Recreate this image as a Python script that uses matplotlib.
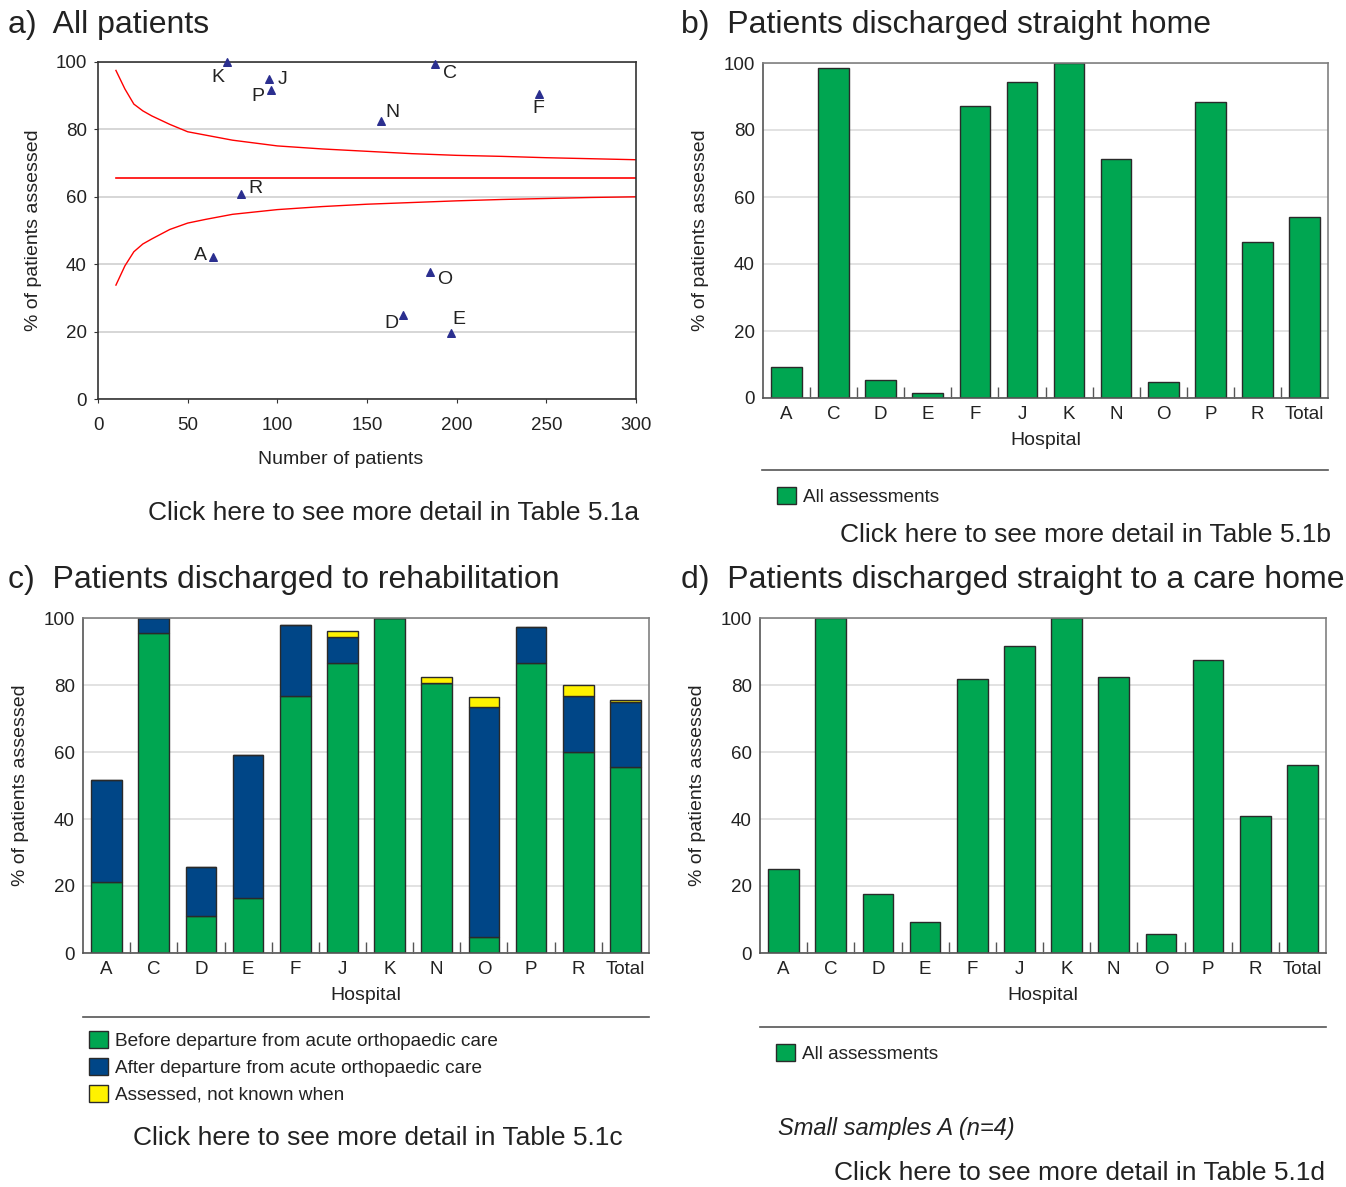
import numpy as np
import matplotlib
matplotlib.use("Agg")
import matplotlib.pyplot as plt
from matplotlib.lines import Line2D
from matplotlib.ticker import FixedLocator

plt.rcParams['font.family'] = ['Liberation Sans', 'DejaVu Sans']

# --- data -------------------------------------------------------------
hospitals = ['A', 'C', 'D', 'E', 'F', 'J', 'K', 'N', 'O', 'P', 'R', 'Total']

# a) all patients: number of patients vs % assessed
scatter_labels = ['K', 'C', 'J', 'P', 'F', 'N', 'R', 'A', 'O', 'D', 'E']
scatter_n = [72, 188, 95.6, 96.2, 246, 158, 79.5, 64, 185, 170, 197]
scatter_pct = [100, 99.5, 94.9, 91.8, 90.6, 82.4, 60.7, 42.1, 37.8, 24.8, 19.7]

# funnel limits and overall mean
funnel_n = [10, 15, 20, 25, 30, 40, 50, 60, 75, 100, 125, 150, 175, 200, 225, 250, 275, 300]
funnel_upper = [97.5, 92.0, 87.5, 85.5, 84.0, 81.5, 79.3, 78.3, 76.8, 75.1, 74.2, 73.5,
                72.8, 72.3, 72.0, 71.6, 71.3, 71.0]
funnel_lower = [33.8, 39.5, 43.7, 46.0, 47.5, 50.3, 52.2, 53.3, 54.8, 56.2, 57.1, 57.8,
                58.3, 58.8, 59.2, 59.5, 59.8, 60.0]
overall_mean = 65.6

# b) discharged straight home
home_all = [9.2, 98.4, 5.5, 1.5, 87.1, 94.3, 100, 71.3, 4.8, 88.4, 46.7, 54.1]

# c) discharged to rehabilitation (stacked)
rehab_before = [21.2, 95.6, 11.1, 16.4, 76.8, 86.6, 100, 80.7, 4.8, 86.7, 59.9, 55.5]
rehab_after = [30.3, 4.4, 14.6, 42.7, 21.1, 7.6, 0, 0, 68.6, 10.5, 16.7, 19.3]
rehab_unknown = [0, 0, 0, 0, 0, 1.8, 0, 1.8, 3.1, 0, 3.3, 0.8]

# d) discharged straight to a care home
carehome_all = [25.1, 100, 17.6, 9.2, 81.7, 91.7, 100, 82.3, 5.7, 87.5, 41.0, 56.2]

# --- styling ----------------------------------------------------------
GREEN = '#00A651'
NAVY = '#004687'
YELLOW = '#FFF200'
EDGE = '#2a2a2a'
TEXT = '#222222'
FS = 13.5      # tick labels
FL = 14        # axis labels
FG = 13.7      # legend entries
FT = 23        # panel titles
FC = 19        # "click here" lines

W, H = 1346, 1187
fig = plt.figure(figsize=(W / 100, H / 100), dpi=100)


def axes_px(left, top, right, bottom):
    return fig.add_axes([left / W, 1 - bottom / H, (right - left) / W, (bottom - top) / H])


def ftext(x, y, s, **kw):
    kw.setdefault('color', TEXT)
    kw.setdefault('va', 'center')
    fig.text(x / W, 1 - y / H, s, **kw)


def hline_px(x0, x1, y):
    fig.add_artist(Line2D([x0 / W, x1 / W], [1 - y / H, 1 - y / H],
                          transform=fig.transFigure, color='#555555', lw=1.2))


def style_pct_axis(ax):
    ax.set_ylim(0, 100)
    ax.set_yticks(range(0, 101, 20))
    ax.yaxis.grid(True, color='#dddddd', lw=1.2)
    ax.set_axisbelow(True)
    ax.tick_params(axis='both', labelsize=FS, colors=TEXT)
    ax.set_ylabel('% of patients assessed', fontsize=FL, color=TEXT, labelpad=10)


def bar_axis(ax):
    x = np.arange(len(hospitals))
    ax.set_xlim(-0.5, len(hospitals) - 0.5)
    style_pct_axis(ax)
    ax.set_xticks(x)
    ax.set_xticklabels(hospitals)
    ax.xaxis.set_minor_locator(FixedLocator(np.arange(0.5, len(hospitals) - 1, 1.0)))
    ax.tick_params(axis='x', which='major', length=0, pad=6)
    ax.tick_params(axis='x', which='minor', direction='in', length=8, color='#555555', width=1)
    ax.tick_params(axis='y', length=0, pad=6)
    for side in ['top', 'right']:
        ax.spines[side].set_color('#808080')
    for side in ['left', 'bottom']:
        ax.spines[side].set_color('#555555')
    for sp in ax.spines.values():
        sp.set_linewidth(1.2)
    ax.set_xlabel('Hospital', fontsize=FL, color=TEXT, labelpad=6)
    return x


def add_legend(ax, x, y, spacing=0.42):
    ax.legend(loc='upper left', bbox_to_anchor=(x / W, 1 - y / H), bbox_transform=fig.transFigure,
              frameon=False, fontsize=FG, handlelength=1.0, handleheight=1.0, handletextpad=0.4,
              labelspacing=spacing, borderaxespad=0, labelcolor=TEXT)


# --- a) all patients --------------------------------------------------
ax = axes_px(98, 62, 636, 399)
ax.plot(funnel_n, funnel_upper, color='#ff0000', lw=1)
ax.plot(funnel_n, funnel_lower, color='#ff0000', lw=1)
ax.plot([funnel_n[0], funnel_n[-1]], [overall_mean, overall_mean], color='#ff0000', lw=1.2)
ax.scatter(scatter_n, scatter_pct, marker='^', s=30, color='#2b2f8f', zorder=3, clip_on=False)
label_offsets = {'K': (-9, -16), 'C': (15, -10), 'J': (13, 0), 'P': (-13, -7), 'F': (-1, -15),
                 'N': (11, 9), 'R': (15, 6), 'A': (-12, 2), 'O': (15, -8), 'D': (-11, -8),
                 'E': (8, 13)}
for lab, xv, yv in zip(scatter_labels, scatter_n, scatter_pct):
    ax.annotate(lab, (xv, yv), xytext=label_offsets[lab], textcoords='offset pixels',
                ha='center', va='center', fontsize=FL, color=TEXT)
ax.set_xlim(0, 300)
ax.set_xticks(range(0, 301, 50))
style_pct_axis(ax)
ax.yaxis.grid(True, color='#d0d0d0', lw=1.2)
ax.tick_params(axis='both', direction='out', length=3, color='#333333', pad=5)
ax.tick_params(axis='x', pad=10)
for sp in ax.spines.values():
    sp.set_color('#333333')
    sp.set_linewidth(1.2)
ax.set_xlabel('Number of patients', fontsize=FL, color=TEXT)
ax.xaxis.set_label_coords((341 - 98) / 538, -(451 - 399) / 337)

ftext(8, 25, 'a)  All patients', fontsize=FT)
ftext(394, 513, 'Click here to see more detail in Table 5.1a', fontsize=FC, ha='center')

# --- b) discharged straight home -------------------------------------
ax = axes_px(763, 63, 1328, 398)
x = bar_axis(ax)
ax.bar(x, home_all, width=0.65, color=GREEN, edgecolor=EDGE, lw=1, label='All assessments')
ftext(681, 25, 'b)  Patients discharged straight home', fontsize=FT)
hline_px(762, 1328, 470)
add_legend(ax, 769, 479)
ftext(1085, 535, 'Click here to see more detail in Table 5.1b', fontsize=FC, ha='center')

# --- c) discharged to rehabilitation ---------------------------------
ax = axes_px(83, 618, 649, 953)
x = bar_axis(ax)
after_bottom = np.array(rehab_before)
unknown_bottom = after_bottom + np.array(rehab_after)
ax.bar(x, rehab_before, width=0.65, color=GREEN, edgecolor=EDGE, lw=1,
       label='Before departure from acute orthopaedic care')
ax.bar(x, rehab_after, width=0.65, bottom=after_bottom, color=NAVY, edgecolor=EDGE, lw=1,
       label='After departure from acute orthopaedic care')
ax.bar(x, rehab_unknown, width=0.65, bottom=unknown_bottom, color=YELLOW, edgecolor=EDGE, lw=1,
       label='Assessed, not known when')
ftext(8, 580, 'c)  Patients discharged to rehabilitation', fontsize=FT)
hline_px(83, 649, 1017)
add_legend(ax, 81, 1023, spacing=0.42)
ftext(378, 1138, 'Click here to see more detail in Table 5.1c', fontsize=FC, ha='center')

# --- d) discharged straight to a care home ---------------------------
ax = axes_px(760, 618, 1326, 953)
x = bar_axis(ax)
ax.bar(x, carehome_all, width=0.65, color=GREEN, edgecolor=EDGE, lw=1, label='All assessments')
ftext(681, 580, 'd)  Patients discharged straight to a care home', fontsize=FT)
hline_px(760, 1326, 1027)
add_legend(ax, 768, 1036)
ftext(778, 1128, 'Small samples A (n=4)', fontsize=17, style='italic')
ftext(1080, 1173, 'Click here to see more detail in Table 5.1d', fontsize=FC, ha='center')

fig.savefig('out.png', dpi=100)
